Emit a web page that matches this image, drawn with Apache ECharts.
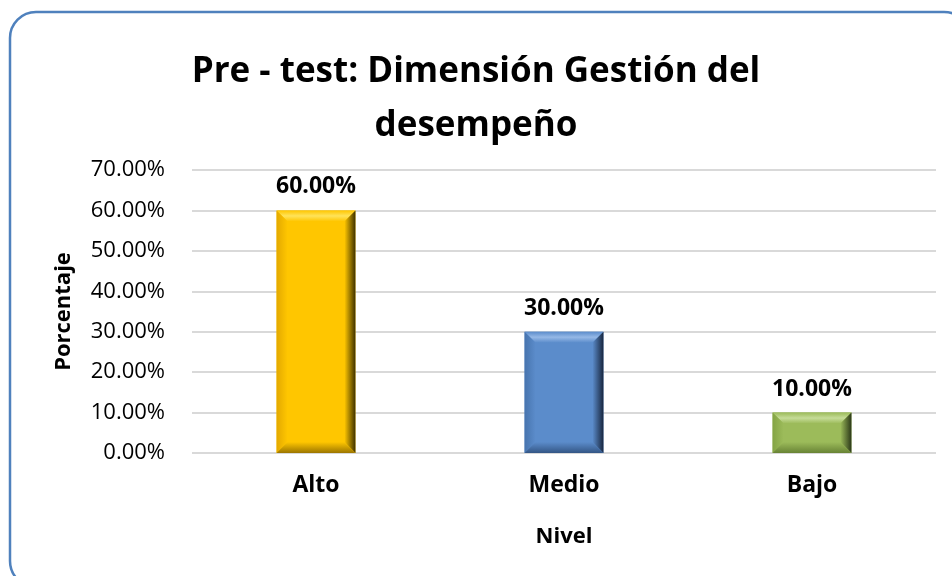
<!DOCTYPE html>
<html>
<head>
<meta charset="utf-8">
<script src="https://cdn.jsdelivr.net/npm/echarts@6/dist/echarts.min.js"></script>
<style>
  html, body { margin: 0; padding: 0; background: #fff; }
  #chart { width: 952px; height: 576px; }
</style>
</head>
<body>
<div id="chart"></div>
<script>
// datos del gráfico
var categories = ['Alto', 'Medio', 'Bajo'];
var values = [60, 30, 10];
var yMax = 70;
var yStep = 10;

var FONT = '"Open Sans", "DejaVu Sans", sans-serif';

// colores por barra: cara, arriba, izquierda, derecha, abajo
var palettes = [
    {face: '#FFC600', top: '#FFE35A', left: '#E3A900', right: '#3E3100', bottom: '#9C7600'},
    {face: '#5B8CCB', top: '#95B8E6', left: '#4774AE', right: '#18263E', bottom: '#345685'},
    {face: '#9CBB5A', top: '#C6DC98', left: '#84A444', right: '#2B3818', bottom: '#688335'}
];

function renderBevelBar(params, api) {
    var i = params.dataIndex;
    var v = api.value(1);
    var top = api.coord([api.value(0), v]);
    var base = api.coord([api.value(0), 0]);
    var bandW = api.size([1, 0])[0];
    var w = bandW * 0.318;
    var x0 = top[0] - w / 2, x1 = x0 + w;
    var y0 = top[1], y1 = base[1];
    var b = Math.min(11, (y1 - y0) / 2.5);
    var c = palettes[i % palettes.length];
    return {
        type: 'group',
        children: [
            {type: 'rect', shape: {x: x0, y: y0, width: w, height: y1 - y0}, style: {fill: c.face}},
            {type: 'polygon', shape: {points: [[x0, y0], [x1, y0], [x1 - b, y0 + b], [x0 + b, y0 + b]]},
                style: {fill: new echarts.graphic.LinearGradient(0, 0, 0, 1, [
                    {offset: 0, color: c.face}, {offset: 0.5, color: c.top}, {offset: 1, color: c.face}])}},
            {type: 'polygon', shape: {points: [[x0, y0], [x0 + b, y0 + b], [x0 + b, y1 - b], [x0, y1]]},
                style: {fill: new echarts.graphic.LinearGradient(0, 0, 1, 0, [
                    {offset: 0, color: c.left}, {offset: 1, color: c.face}])}},
            {type: 'polygon', shape: {points: [[x1, y0], [x1, y1], [x1 - b, y1 - b], [x1 - b, y0 + b]]},
                style: {fill: new echarts.graphic.LinearGradient(0, 0, 1, 0, [
                    {offset: 0, color: c.face}, {offset: 1, color: c.right}])}},
            {type: 'polygon', shape: {points: [[x0, y1], [x0 + b, y1 - b], [x1 - b, y1 - b], [x1, y1]]},
                style: {fill: new echarts.graphic.LinearGradient(0, 0, 0, 1, [
                    {offset: 0, color: c.face}, {offset: 1, color: c.bottom}])}},
            {type: 'text', style: {
                text: v.toFixed(2) + '%', x: top[0], y: y0 - 12,
                align: 'center', verticalAlign: 'bottom',
                font: 'bold 23px ' + FONT, fill: '#000'}}
        ]
    };
}

var myChart = echarts.init(document.getElementById('chart'), null, {renderer: 'canvas'});

var option = {
    animation: false,
    backgroundColor: '#fff',
    title: {
        text: 'Pre - test: Dimensión Gestión del\ndesempeño',
        left: 'center',
        top: 40,
        textStyle: {fontFamily: FONT, fontWeight: 'bold', fontSize: 35, lineHeight: 54, color: '#000'}
    },
    graphic: [{
        type: 'rect',
        shape: {x: 10, y: 12, width: 960, height: 575, r: 26},
        style: {fill: 'transparent', stroke: '#4F81BD', lineWidth: 2.5},
        silent: true
    }],
    grid: {left: 192, right: 16, top: 170, bottom: 123},
    xAxis: {
        type: 'category',
        data: categories,
        name: 'Nivel',
        nameLocation: 'middle',
        nameGap: 73,
        nameTextStyle: {fontFamily: FONT, fontWeight: 'bold', fontSize: 22, color: '#000'},
        axisLine: {show: false},
        axisTick: {show: false},
        axisLabel: {margin: 21, fontFamily: FONT, fontWeight: 'bold', fontSize: 23, color: '#000'}
    },
    yAxis: {
        type: 'value',
        min: 0,
        max: yMax,
        interval: yStep,
        name: 'Porcentaje',
        nameLocation: 'middle',
        nameRotate: 90,
        nameGap: 117,
        nameTextStyle: {fontFamily: FONT, fontWeight: 'bold', fontSize: 22, color: '#000'},
        axisLine: {show: false},
        axisTick: {show: false},
        axisLabel: {
            margin: 27, fontFamily: FONT, fontSize: 22, color: '#000',
            formatter: function (val) { return val.toFixed(2) + '%'; }
        },
        splitLine: {lineStyle: {color: '#D9D9D9', width: 2}}
    },
    series: [{
        type: 'custom',
        renderItem: renderBevelBar,
        encode: {x: 0, y: 1},
        data: categories.map(function (c, i) { return [c, values[i]]; })
    }]
};

myChart.setOption(option);
</script>
</body>
</html>
